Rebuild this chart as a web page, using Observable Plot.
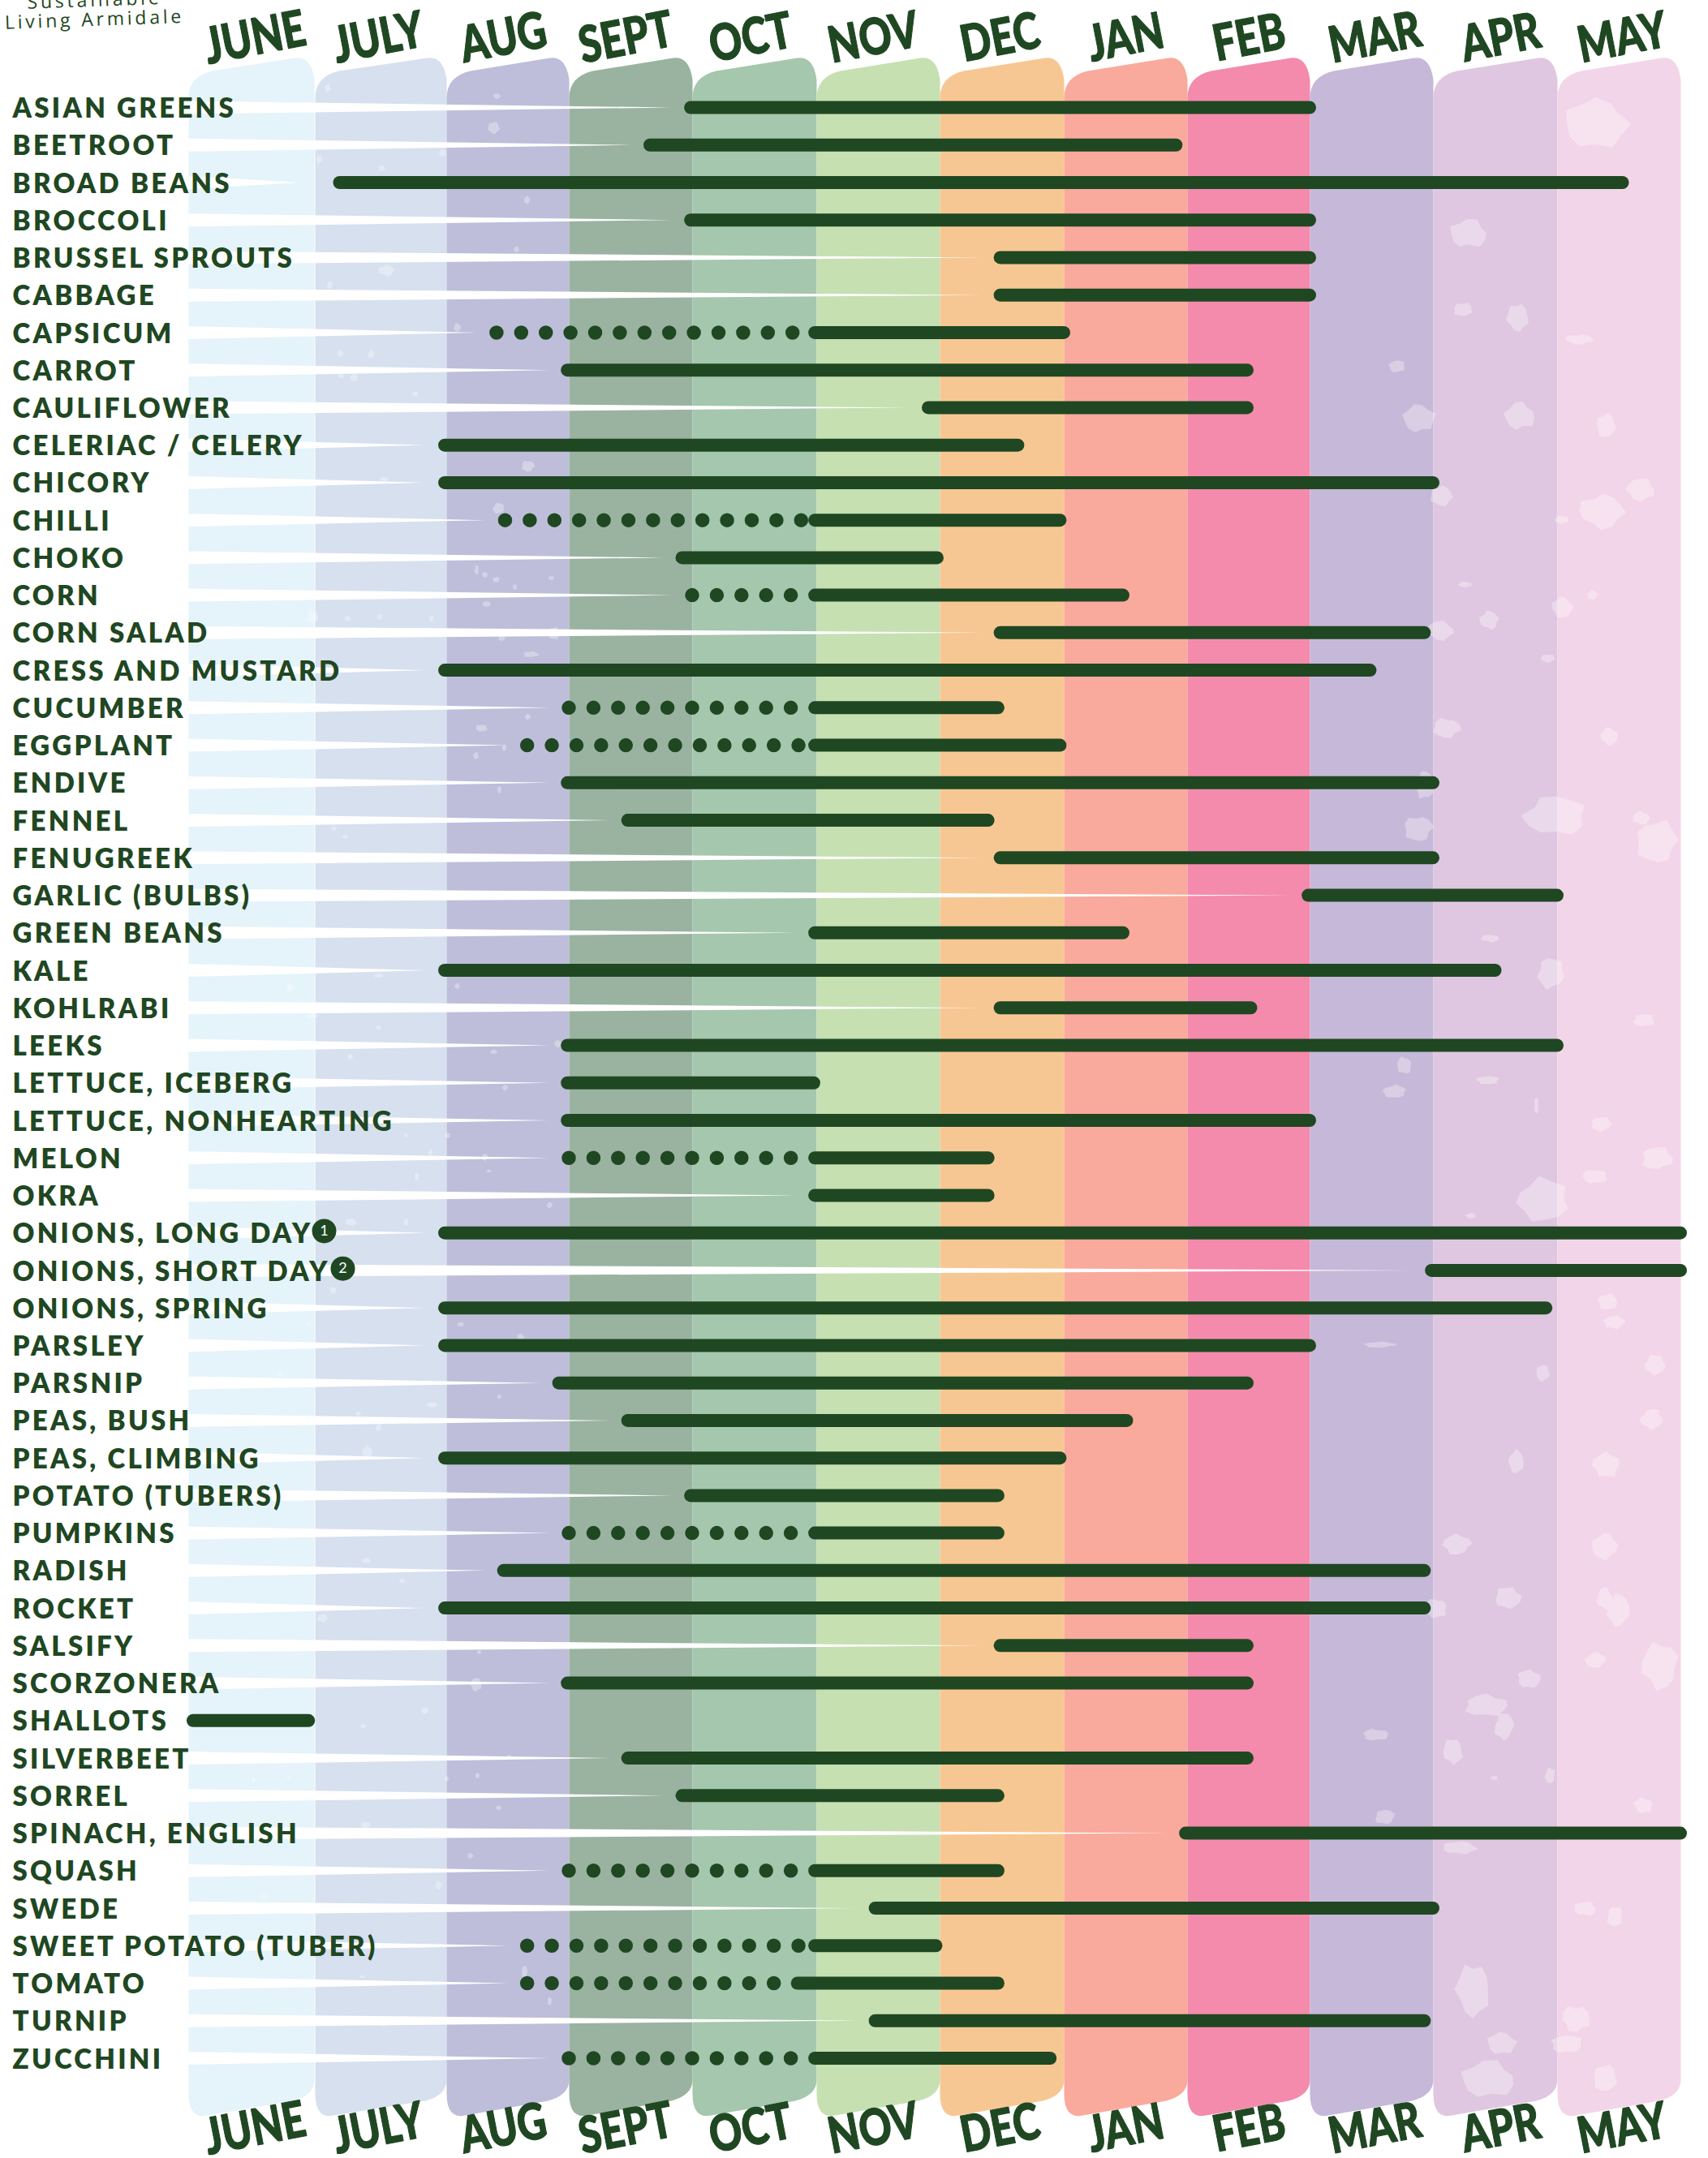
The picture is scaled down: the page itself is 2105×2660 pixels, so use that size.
<!DOCTYPE html><html><head><style>
body{margin:0;background:#fff}
.lbl text{letter-spacing:3.3px}
.sub text{letter-spacing:3.8px}
</style></head><body><script src="https://cdn.jsdelivr.net/npm/d3@7"></script><script src="https://cdn.jsdelivr.net/npm/@observablehq/plot@0.6"></script><div id="c"></div><script>
const months=["JUNE","JULY","AUG","SEPT","OCT","NOV","DEC","JAN","FEB","MAR","APR","MAY"];
const colors=["#e5f3fa","#d7e0ef","#bebedb","#9ab3a1","#a5c7ad","#c6e0b2","#f7c793","#f9aa9c","#f48bac","#c6b8d9","#e0c7e1","#f3d5e9"];
const monthEdges=[232,388,550,701,853,1006,1158,1311,1463,1614,1766,1919,2071];
const headCentres=[314,466,620,771,925,1076,1232,1387,1539,1694,1849,1999];
const crops=["ASIAN GREENS","BEETROOT","BROAD BEANS","BROCCOLI","BRUSSEL SPROUTS","CABBAGE","CAPSICUM","CARROT","CAULIFLOWER","CELERIAC / CELERY","CHICORY","CHILLI","CHOKO","CORN","CORN SALAD","CRESS AND MUSTARD","CUCUMBER","EGGPLANT","ENDIVE","FENNEL","FENUGREEK","GARLIC (BULBS)","GREEN BEANS","KALE","KOHLRABI","LEEKS","LETTUCE, ICEBERG","LETTUCE, NONHEARTING","MELON","OKRA","ONIONS, LONG DAY","ONIONS, SHORT DAY","ONIONS, SPRING","PARSLEY","PARSNIP","PEAS, BUSH","PEAS, CLIMBING","POTATO (TUBERS)","PUMPKINS","RADISH","ROCKET","SALSIFY","SCORZONERA","SHALLOTS","SILVERBEET","SORREL","SPINACH, ENGLISH","SQUASH","SWEDE","SWEET POTATO (TUBER)","TOMATO","TURNIP","ZUCCHINI"];
const solidStart=[4,3.67,1.2,4,6.5,6.5,5,3,5.92,2,2,5,3.93,5,6.5,2,5,5,3,3.49,6.5,9,5,2,6.5,3,3,3,5,5,2,10,2,2,2.93,3.49,2,4,5,2.48,2,6.5,3,0.05,3.49,3.93,8,5,5.49,5,4.86,5.49,5];
const solidEnd=[9,7.91,11.53,9,9,9,7,8.49,8.49,6.63,10,6.97,5.98,7.48,9.93,9.49,6.47,6.97,10,6.39,10,11,7.48,10.5,8.52,11,4.98,9,6.39,6.39,12,12,10.91,9,8.49,7.51,6.97,6.47,6.47,9.93,9.93,8.49,8.49,0.95,8.49,6.47,12,6.47,10,5.97,6.47,9.93,6.89];
const dotStart=[null,null,null,null,null,null,2.41,null,null,null,null,2.48,null,4,null,null,3,2.66,null,null,null,null,null,null,null,null,null,null,3,null,null,null,null,null,null,null,null,null,3,null,null,null,null,null,null,null,null,3,null,2.66,2.66,null,3];
const leafX=[1966,1809,1803,1870,1946,1721,1748,1872,1979,1776,1974,2021,1924,1805,1925,1962,1835,1774,1907,1782,1983,1756,1917,2022,2041,1747,1836,1911,2026,1730,1718,1833,1893,1973,2042,1965,1901,1812,1981,1989,1700,1901,2039,2035,1868,1979,1795,1977,1858,1977,1994,1768,2045,1966,1884,1831,1853,1790,1841,1910,2025,1695,1706,1798,1953,1990,1815,1942,1930,1850,1833,1978,608,612,403,393,545,470,649,476,636,406,563,419,457,436,420,511,650,473,614,587,597,611,634,679,599,385,428,467,531,682,618,654,593,650,586,621,615,411,425,466,563,357,466,687,385,431,608,622,500,551,530,513,602,597,432,500,677,410,380,567,641,344,615,532,441,466,452,451,495,397,590,586,523,447,627,550,588,614,450,579,540,325,312,355,646,677,446,473,473];
const leafY=[152,287,381,391,418,451,515,512,524,611,630,603,640,720,748,733,764,777,811,897,907,967,1005,1008,1037,1021,1156,1199,1257,1313,1345,1331,1362,1385,1427,1450,1479,1498,1604,1629,1657,1692,1682,1749,1801,1805,1903,1906,1969,1970,1984,1982,2052,2046,2069,2102,2127,2158,2191,2188,2225,2138,2239,2277,2352,2362,2453,2488,2519,2518,2562,2561,157,118,108,196,188,207,246,333,307,351,403,435,436,465,463,485,574,590,626,702,708,714,723,712,744,760,762,760,762,780,786,806,897,883,931,921,973,1021,1031,1202,1215,1216,1266,1286,1252,1302,1296,1340,1399,1399,1420,1450,1443,1426,1506,1506,1485,1590,1632,1632,1647,1693,1721,1731,1742,1759,1790,1923,1948,1994,2036,2076,2108,2127,2165,2192,2188,2228,2249,2287,2323,2337,2194,2190,2430,2466,2436,2495];
const leafRx=[44,26,14,15,20,12,22,21,14,15,31,20,10,10,15,7,13,19,10,19,12,13,43,12,29,20,13,19,15,10,17,16,3,15,22,17,37,7,13,16,23,9,15,16,10,20,20,17,19,11,15,18,26,14,17,31,13,14,5,7,13,19,14,24,16,11,23,20,23,20,37,17,8,5,4,4,5,5,4,11,4,4,5,4,4,5,4,4,9,6,8,3,4,5,3,4,6,8,4,4,3,8,5,11,8,4,4,3,3,4,4,7,4,5,4,5,8,4,5,4,3,4,3,3,4,4,8,3,4,5,4,5,5,4,3,7,4,4,7,6,4,7,3,8,5,4,3,3,3,4,7,4,4,5,3,3,4,3,4,4,3];
const leafRy=[36,20,9,20,7,8,20,19,16,15,24,15,6,4,14,7,13,13,6,14,12,20,28,9,30,18,5,22,9,12,9,6,12,10,16,10,30,4,12,9,4,12,14,14,17,17,14,19,15,15,23,13,32,11,13,15,19,18,3,11,11,8,10,9,10,14,38,18,12,16,26,18,9,4,5,6,5,4,6,8,4,6,6,5,6,6,3,4,8,3,8,7,4,4,4,3,4,9,4,4,5,9,4,4,5,4,5,5,5,3,3,3,4,6,3,5,4,4,3,4,3,4,5,6,2,5,5,5,4,5,3,3,4,4,3,4,3,5,10,4,3,6,3,9,5,3,3,4,4,3,5,4,6,4,4,3,9,6,2,3,3];
const noteLabels=["1","2"],noteRows=[30,31],noteX=[399,422];
const ink="#1f4722",rowY=132,rowH=46.24;
const row=px=>(px-rowY)/rowH;
const xp=d3.scaleLinear().domain(monthEdges).range(d3.range(13));
const mx=v=>v<monthEdges[0]?(v-232)/156:xp(v);
const rows=crops.map((c,i)=>({c,i,s:solidStart[i],e:solidEnd[i],d:dotStart[i]}));
const q=(a,c,b,n=8)=>d3.range(n+1).map(k=>{const t=k/n,u=1-t;return[u*u*a[0]+2*u*t*c[0]+t*t*b[0],u*u*a[1]+2*u*t*c[1]+t*t*b[1]]});
const band=(m,i)=>{const L=monthEdges[i],R=monthEdges[i+1]-(i==0?1:0);
 const p=[...q([L,120],[L,94],[L+29,87]),...q([R-24,71],[R-4,68],[R,98]),...q([R,2563],[R,2582],[R-26,2589]),...q([L+23,2607],[L,2612],[L,2580])];
 return p.map(([x,y])=>({m,c:colors[i],x:mx(x),y:row(y)}))};
const bandPts=months.flatMap(band);
const spikes=rows.filter(r=>r.i!=43).flatMap(r=>{const tip=r.i==2?0.885:(r.d??r.s)-0.165;
 return [[0,-8],[tip,0],[0,8]].map(([x,o])=>({c:r.c,x,y:r.i+o/rowH}))});
const blobs=[[1,.82,.95,.7,.9,.85,.8,.95,.75,.9,.82,.72],[1,.7,.92,.85,.8,.95,.72,.88,.95,.7,.85,.9],[.9,1,.75,.85,.95,.78,1,.86,.7,.92,.82,.88]];
const leafPts=leafX.flatMap((px,i)=>blobs[i%3].map((r,k)=>{const a=k/12*2*Math.PI+i;
 return {id:i,x:mx(px+leafRx[i]*r*Math.cos(a)),y:row(leafY[i]+leafRy[i]*r*Math.sin(a))}}));
const heads=months.map((m,i)=>({m,x:mx(headCentres[i])}));
const headOpts={text:"m",x:"x",fontSize:62,fontFamily:"Lato",fontWeight:900,fill:ink,stroke:ink,strokeWidth:1.2,rotate:-11,className:"head"};
const plot=Plot.plot({width:2105,height:2660,margin:0,style:{background:"transparent",overflow:"visible"},
 x:{type:"linear",domain:[-1.487,...d3.range(13),13],range:[0,...monthEdges,2223],axis:null},
 y:{type:"linear",domain:[row(0),row(2660)],range:[0,2660],axis:null},
 marks:[
  Plot.line(bandPts,{x:"x",y:"y",z:"m",fill:"c",stroke:null}),
  Plot.line(leafPts,{x:"x",y:"y",z:"id",fill:"#fff",fillOpacity:.32,stroke:null}),
  Plot.line(spikes,{x:"x",y:"y",z:"c",fill:"#fff",stroke:null}),
  Plot.text(heads,{...headOpts,y:row(47)}),
  Plot.text(heads,{...headOpts,y:row(2624)}),
  Plot.ruleY(rows.filter(r=>r.d!=null),{x1:"d",x2:d=>d.s-.12,y:"i",stroke:ink,strokeWidth:17.5,strokeLinecap:"round",strokeDasharray:"0 30.4"}),
  Plot.ruleY(rows,{x1:d=>d.s-.012,x2:"e",y:"i",stroke:ink,strokeWidth:16,strokeLinecap:"round"}),
  Plot.text(rows,{x:0,dx:-217,y:"i",dy:2,text:"c",textAnchor:"start",fontSize:33,fontFamily:"Lato",fontWeight:800,fill:ink,className:"lbl"}),
  Plot.dot(noteRows,{x:(d,i)=>mx(noteX[i]),y:d=>d-.05,r:15,fill:ink,stroke:null}),
  Plot.text(noteLabels,{x:(d,i)=>mx(noteX[i]),y:(d,i)=>noteRows[i]-.05,text:d=>d,fontSize:18,fontFamily:"Lato",fill:"#fff"}),
  Plot.text(["Sustainable"],{x:mx(116),y:row(0),text:d=>d,fontSize:23,fontFamily:"Open Sans",fill:ink,rotate:-2,className:"sub"}),
  Plot.text(["Living Armidale"],{x:mx(116),y:row(24),text:d=>d,fontSize:23,fontFamily:"Open Sans",fill:ink,rotate:-2,className:"sub"})
 ]});
plot.querySelectorAll(".head text").forEach(t=>{const a=t.getAttribute("transform");if(a)t.setAttribute("transform",a+" scale(.8,1)")});
document.getElementById("c").append(plot);
</script></body></html>
